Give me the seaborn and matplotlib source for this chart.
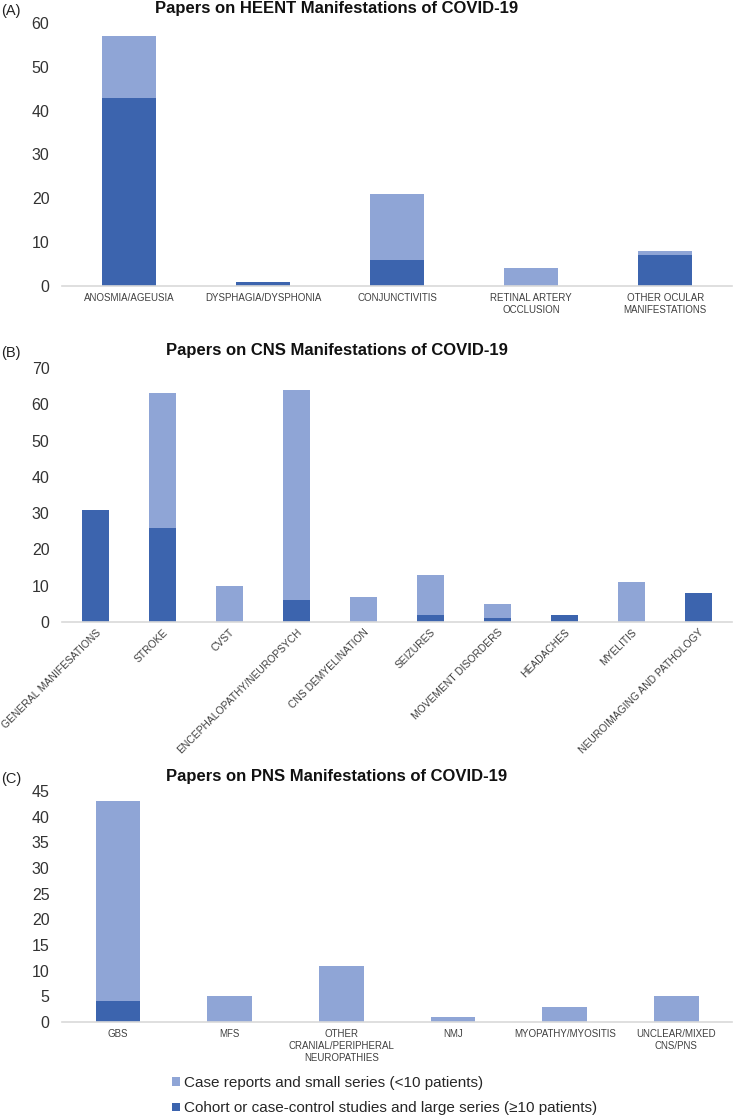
import matplotlib
matplotlib.use("Agg")
import matplotlib.pyplot as plt
import seaborn as sns
import pandas as pd
from matplotlib.patches import Patch

# ---- data ----
heent_cats = ["ANOSMIA/AGEUSIA", "DYSPHAGIA/DYSPHONIA", "CONJUNCTIVITIS",
              "RETINAL ARTERY\nOCCLUSION", "OTHER OCULAR\nMANIFESTATIONS"]
heent_large = [43, 1, 6, 0, 7]
heent_small = [14, 0, 15, 4, 1]

cns_cats = ["GENERAL MANIFESATIONS", "STROKE", "CVST", "ENCEPHALOPATHY/NEUROPSYCH",
            "CNS DEMYELINATION", "SEIZURES", "MOVEMENT DISORDERS", "HEADACHES",
            "MYELITIS", "NEUROIMAGING AND PATHOLOGY"]
cns_large = [31, 26, 0, 6, 0, 2, 1, 2, 0, 8]
cns_small = [0, 37, 10, 58, 7, 11, 4, 0, 11, 0]

pns_cats = ["GBS", "MFS", "OTHER\nCRANIAL/PERIPHERAL\nNEUROPATHIES", "NMJ",
            "MYOPATHY/MYOSITIS", "UNCLEAR/MIXED\nCNS/PNS"]
pns_large = [4, 0, 0, 0, 0, 0]
pns_small = [39, 5, 11, 1, 3, 5]

titles = ["Papers on HEENT Manifestations of COVID-19",
          "Papers on CNS Manifestations of COVID-19",
          "Papers on PNS Manifestations of COVID-19"]
panel_tags = ["(A)", "(B)", "(C)"]
legend_labels = ["Case reports and small series (<10 patients)",
                 "Cohort or case-control studies and large series (\u226510 patients)"]

LIGHT = "#8FA5D6"
DARK = "#3C64AE"

sns.set_theme(style="white")
plt.rcParams["font.family"] = ["Liberation Sans", "DejaVu Sans"]

W, H = 733, 1120
fig = plt.figure(figsize=(W / 100, H / 100), dpi=100)

def fx(px):
    return px / W

def fy(px):
    return 1 - px / H

panels = [
    dict(cats=heent_cats, large=heent_large, small=heent_small, ymax=60, step=10,
         top=23, bottom=286, title_y=9, rot=False),
    dict(cats=cns_cats, large=cns_large, small=cns_small, ymax=70, step=10,
         top=368, bottom=622, title_y=351, rot=True),
    dict(cats=pns_cats, large=pns_large, small=pns_small, ymax=45, step=5,
         top=791, bottom=1022, title_y=777, rot=False),
]

left_px = 62
for i, p in enumerate(panels):
    ax = fig.add_axes([fx(left_px), fy(p["bottom"]), 1 - fx(left_px) - 0.001,
                       (p["bottom"] - p["top"]) / H])
    total = [a + b for a, b in zip(p["large"], p["small"])]
    df = pd.DataFrame({"cat": p["cats"], "total": total, "large": p["large"]})
    sns.barplot(data=df, x="cat", y="total", color=LIGHT, saturation=1,
                width=0.4, ax=ax, order=p["cats"], linewidth=0, edgecolor="none")
    sns.barplot(data=df, x="cat", y="large", color=DARK, saturation=1,
                width=0.4, ax=ax, order=p["cats"], linewidth=0, edgecolor="none")
    ax.set_xlim(-0.5, len(p["cats"]) - 0.5)
    ax.set_ylim(0, p["ymax"])
    ax.set_yticks(range(0, p["ymax"] + 1, p["step"]))
    ax.set_xlabel("")
    ax.set_ylabel("")
    for s in ["left", "top", "right"]:
        ax.spines[s].set_visible(False)
    ax.spines["bottom"].set_color("#D9D9D9")
    ax.spines["bottom"].set_linewidth(1.2)
    ax.tick_params(axis="y", length=0, pad=9, labelsize=11.5, labelcolor="#333333")
    ax.tick_params(axis="x", length=0, pad=5, labelsize=7, labelcolor="#404040")
    ax.grid(False)
    if p["rot"]:
        for lbl in ax.get_xticklabels():
            lbl.set_rotation(45)
            lbl.set_ha("right")
            lbl.set_rotation_mode("anchor")
            lbl.set_fontsize(7.4)
        ax.tick_params(axis="x", pad=4)
    else:
        for lbl in ax.get_xticklabels():
            lbl.set_linespacing(1.25)
    fig.text(fx(337), fy(p["title_y"]), titles[i], ha="center", va="center",
             fontsize=12, fontweight="bold", color="#111111")
    fig.text(fx(1), fy(p["title_y"] + 2), panel_tags[i], ha="left", va="center",
             fontsize=10.5, color="#222222")

handles = [Patch(facecolor=LIGHT, edgecolor="none"),
           Patch(facecolor=DARK, edgecolor="none")]
fig.legend(handles, legend_labels, loc="upper left",
           bbox_to_anchor=(fx(172), fy(1076)), frameon=False, fontsize=11,
           handlelength=0.5, handleheight=0.5, handletextpad=0.3,
           labelspacing=0.75, borderaxespad=0, borderpad=0)

fig.savefig("out.png", dpi=100)
